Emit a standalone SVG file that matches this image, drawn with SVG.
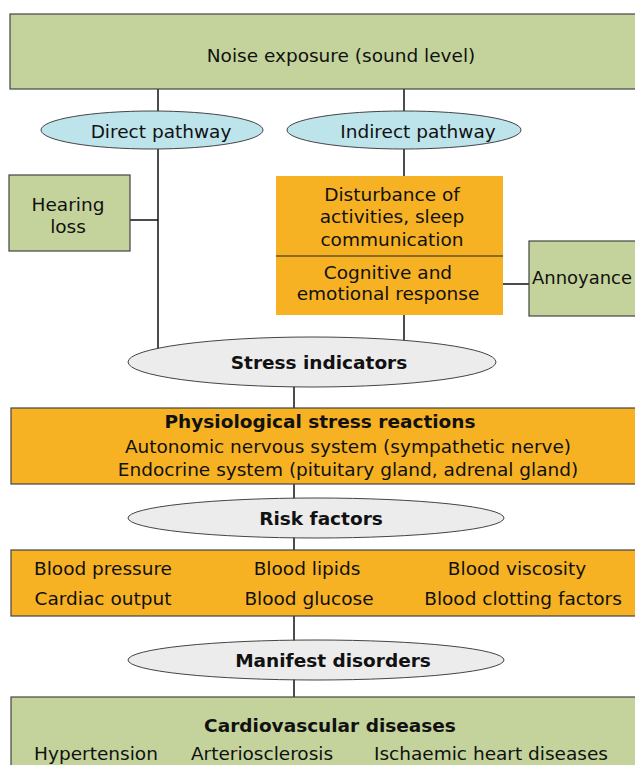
<svg xmlns="http://www.w3.org/2000/svg" width="635" height="765" viewBox="0 0 635 765">
<style>
text{font-family:"DejaVu Sans",Verdana,sans-serif;font-size:18.5px;fill:#111;text-anchor:middle}
.b{font-weight:bold}
.green{fill:#c4d39b;stroke:#444;stroke-width:1.2}
.orange{fill:#f6b223}
.orb{fill:#f6b223;stroke:#444;stroke-width:1.2}
.blue{fill:#bde3eb;stroke:#444;stroke-width:1}
.gray{fill:#ececec;stroke:#444;stroke-width:1}
.ln{stroke:#111;stroke-width:1.5;fill:none}
</style>
<rect width="635" height="765" fill="#fff"/>
<g id="connectors">
<line class="ln" x1="158" y1="89" x2="158" y2="112"/>
<line class="ln" x1="404" y1="89" x2="404" y2="112"/>
<line class="ln" x1="158" y1="148" x2="158" y2="350"/>
<line class="ln" x1="130" y1="220" x2="158" y2="220"/>
<line class="ln" x1="404" y1="148" x2="404" y2="176"/>
<line class="ln" x1="404" y1="315" x2="404" y2="340"/>
<line class="ln" x1="503" y1="284" x2="529" y2="284"/>
<line class="ln" x1="294" y1="385" x2="294" y2="408"/>
<line class="ln" x1="294" y1="484" x2="294" y2="500"/>
<line class="ln" x1="294" y1="536" x2="294" y2="550"/>
<line class="ln" x1="294" y1="616" x2="294" y2="641"/>
<line class="ln" x1="294" y1="679" x2="294" y2="697"/>
</g>
<g id="noise">
<rect class="green" x="10" y="14" width="640" height="75"/>
<text x="341" y="62">Noise exposure (sound level)</text>
</g>
<g id="direct">
<ellipse class="blue" cx="152" cy="130" rx="111" ry="19"/>
<text x="161" y="138">Direct pathway</text>
</g>
<g id="indirect">
<ellipse class="blue" cx="404" cy="130" rx="117" ry="19"/>
<text x="418" y="138">Indirect pathway</text>
</g>
<g id="hearing">
<rect class="green" x="9" y="175" width="121" height="76"/>
<text x="68" y="211">Hearing</text>
<text x="68" y="233">loss</text>
</g>
<g id="disturbance">
<rect class="orange" x="276" y="176" width="227" height="139"/>
<line x1="276" y1="256" x2="503" y2="256" stroke="#222" stroke-width="1"/>
<text x="392" y="201">Disturbance of</text>
<text x="392" y="223">activities, sleep</text>
<text x="392" y="246">communication</text>
<text x="388" y="279">Cognitive and</text>
<text x="388" y="300">emotional response</text>
</g>
<g id="annoyance">
<rect class="green" x="529" y="241" width="120" height="75"/>
<text x="582" y="284" textLength="100" lengthAdjust="spacingAndGlyphs">Annoyance</text>
</g>
<g id="stress">
<ellipse class="gray" cx="312" cy="362" rx="184" ry="25"/>
<text class="b" x="319" y="369">Stress indicators</text>
</g>
<g id="physio">
<rect class="orb" x="11" y="408" width="640" height="76"/>
<text class="b" x="320" y="428">Physiological stress reactions</text>
<text x="348" y="453">Autonomic nervous system (sympathetic nerve)</text>
<text x="348" y="476">Endocrine system (pituitary gland, adrenal gland)</text>
</g>
<g id="risk">
<ellipse class="gray" cx="316" cy="518" rx="188" ry="20"/>
<text class="b" x="321" y="525">Risk factors</text>
</g>
<g id="riskbox">
<rect class="orb" x="11" y="550" width="640" height="66"/>
<text x="103" y="575">Blood pressure</text>
<text x="307" y="575">Blood lipids</text>
<text x="517" y="575">Blood viscosity</text>
<text x="103" y="605">Cardiac output</text>
<text x="309" y="605">Blood glucose</text>
<text x="523" y="605">Blood clotting factors</text>
</g>
<g id="manifest">
<ellipse class="gray" cx="316" cy="660" rx="188" ry="20"/>
<text class="b" x="333" y="667">Manifest disorders</text>
</g>
<g id="cardio">
<rect class="green" x="11" y="697" width="640" height="80"/>
<text class="b" x="330" y="732">Cardiovascular diseases</text>
<text x="96" y="760">Hypertension</text>
<text x="262" y="760">Arteriosclerosis</text>
<text x="491" y="760">Ischaemic heart diseases</text>
</g>
</svg>
